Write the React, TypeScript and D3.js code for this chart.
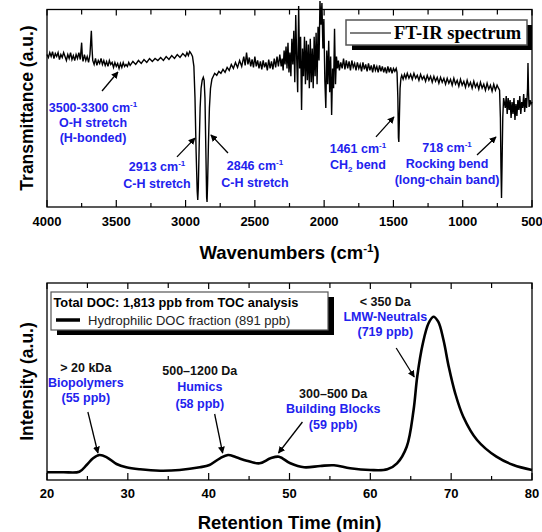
import React from 'react';
import * as d3 from 'd3';

// FT-IR spectrum: [wavenumber cm-1, transmittance a.u.]
const irSpectrum: [number, number][] = [
  [4000, 77], [3990, 75.5], [3980, 78], [3970, 76], [3960, 78.5], [3950, 75], [3940, 77.5], [3930, 76],
  [3920, 78], [3910, 74.5], [3900, 77], [3890, 75.5], [3880, 78], [3870, 76], [3860, 74], [3850, 77],
  [3840, 75], [3830, 78], [3820, 74.5], [3810, 76.5], [3800, 74], [3790, 77], [3780, 75], [3770, 78],
  [3760, 74.5], [3750, 83], [3745, 76], [3740, 73.5], [3730, 77], [3720, 74], [3710, 76], [3700, 73],
  [3690, 77], [3680, 89], [3675, 80], [3670, 74], [3660, 72], [3650, 75], [3640, 71.5], [3630, 74],
  [3620, 72.5], [3610, 75], [3600, 72], [3590, 74], [3580, 71.5], [3570, 73.5], [3560, 71], [3550, 74],
  [3540, 72], [3530, 73], [3520, 70.5], [3510, 73], [3500, 71], [3490, 72.5], [3480, 70], [3470, 72.5],
  [3460, 70.5], [3450, 73], [3440, 71], [3430, 72], [3420, 71], [3410, 73], [3400, 71.5], [3380, 73.5],
  [3360, 72], [3340, 74], [3320, 72.5], [3300, 74.5], [3280, 73], [3260, 75], [3240, 73.5], [3220, 75],
  [3200, 74], [3180, 75.5], [3160, 74], [3140, 76], [3120, 74.5], [3100, 76.5], [3080, 75], [3060, 77],
  [3040, 75.5], [3020, 77.5], [3000, 76], [2990, 78], [2980, 76.5], [2970, 78.5], [2960, 77.5], [2950, 76],
  [2940, 71], [2932, 55], [2924, 28], [2916, 8], [2912, 3.5], [2908, 10], [2902, 30], [2895, 50],
  [2888, 60], [2880, 64], [2872, 65.5], [2866, 64], [2860, 55], [2854, 30], [2848, 5], [2845, 2.5],
  [2841, 12], [2835, 32], [2828, 50], [2820, 60], [2810, 64.5], [2800, 66], [2790, 67.5], [2775, 66.5],
  [2760, 68.5], [2745, 67.5], [2730, 69.5], [2715, 68], [2700, 70.5], [2685, 69], [2670, 72], [2655, 70],
  [2640, 73], [2625, 70.5], [2610, 74], [2595, 71], [2580, 76], [2570, 71.5], [2560, 78], [2550, 72],
  [2540, 75.5], [2530, 71], [2520, 74.5], [2510, 70.5], [2500, 76], [2490, 71], [2480, 74], [2470, 70],
  [2460, 73.5], [2450, 69.5], [2440, 74], [2430, 70.5], [2420, 73], [2410, 69], [2400, 74.5], [2390, 70],
  [2380, 73.5], [2370, 69.5], [2360, 75], [2350, 70.5], [2340, 76], [2330, 71], [2320, 77], [2310, 71],
  [2303, 75], [2296, 69], [2289, 79], [2282, 72], [2275, 81], [2268, 70], [2261, 83], [2254, 68],
  [2247, 78], [2240, 66], [2233, 85], [2226, 72], [2219, 89], [2212, 63], [2205, 97], [2198, 75],
  [2191, 58], [2184, 101.5], [2177, 70], [2170, 86], [2163, 49], [2156, 80], [2149, 66], [2142, 86],
  [2135, 62], [2128, 84], [2121, 64], [2114, 82], [2107, 60], [2100, 85], [2093, 63], [2086, 80],
  [2079, 60], [2072, 86], [2065, 66], [2058, 88], [2051, 62], [2044, 91], [2037, 74], [2030, 104],
  [2023, 92], [2016, 103], [2009, 80], [2002, 95], [1995, 64], [1988, 50], [1981, 79], [1974, 62],
  [1967, 84], [1960, 58], [1953, 76], [1946, 46.5], [1939, 70], [1932, 60], [1925, 90], [1918, 62],
  [1911, 76], [1904, 70], [1897, 74], [1890, 69], [1880, 73], [1870, 70], [1860, 75], [1850, 69.5],
  [1840, 74], [1830, 70], [1820, 73.5], [1810, 69], [1800, 74], [1790, 70.5], [1780, 72.5], [1770, 69],
  [1760, 73], [1750, 70], [1740, 72], [1730, 68.5], [1720, 73], [1710, 69.5], [1700, 72], [1690, 68.5],
  [1680, 72.5], [1670, 69], [1660, 71.5], [1650, 68], [1640, 72], [1630, 69], [1620, 71], [1610, 68],
  [1600, 71.5], [1590, 68.5], [1580, 71], [1570, 68], [1560, 70.5], [1550, 67.5], [1540, 71], [1530, 68],
  [1520, 70.5], [1510, 67.5], [1500, 70], [1490, 68.5], [1480, 70], [1474, 68], [1468, 55], [1464, 35],
  [1461, 32.8], [1457, 45], [1452, 60], [1446, 65], [1440, 66.5], [1430, 64.5], [1420, 67], [1410, 65],
  [1400, 67.5], [1388, 65], [1376, 67], [1364, 64.5], [1352, 67.5], [1340, 65], [1328, 66.5], [1316, 64],
  [1304, 67], [1292, 64.5], [1280, 66], [1268, 63.5], [1256, 66.5], [1244, 64], [1232, 66], [1220, 63],
  [1208, 66], [1196, 63.5], [1184, 65.5], [1172, 62.5], [1160, 65.5], [1148, 63], [1136, 65], [1124, 62],
  [1112, 65], [1100, 62.5], [1088, 64.5], [1076, 61.5], [1064, 65], [1052, 62], [1040, 64], [1028, 61],
  [1016, 64.5], [1004, 61.5], [992, 63.5], [980, 60.5], [968, 64], [956, 61], [944, 63], [932, 60],
  [920, 63.5], [908, 60.5], [896, 62.5], [884, 59.5], [872, 63], [860, 60], [848, 62], [836, 59],
  [824, 62.5], [812, 59.5], [800, 61.5], [788, 58.5], [776, 62], [764, 59], [752, 61.5], [742, 60],
  [734, 59], [728, 45], [724, 20], [720, 4.5], [716, 22], [711, 45], [705, 55], [700, 53],
  [693, 50], [686, 56], [679, 47], [672, 55], [665, 49], [658, 54], [651, 45], [644, 53],
  [637, 47], [630, 55], [623, 44], [616, 52], [609, 46], [602, 54], [595, 49], [588, 56],
  [581, 47], [574, 53], [567, 50], [560, 57], [553, 48], [546, 55], [539, 50], [532, 60],
  [529, 72.7], [525, 58], [521, 50.5], [514, 54], [507, 52], [500, 53],
];

// SEC-OCD chromatogram: [retention time min, intensity a.u.]
const docChromatogram: [number, number][] = [
  [20, 7.7], [22, 7.8], [24, 8.3], [24.9, 15], [25.7, 21.7], [26.5, 25], [27.4, 22.7], [28.6, 16],
  [29.8, 12.7], [31.5, 10.7], [34, 9.3], [36.4, 10], [38.9, 12.7], [40.1, 15], [41.4, 21.7], [42.4, 25],
  [43.4, 22.7], [44.7, 19.3], [46.3, 16.7], [47.65, 21.7], [48.7, 23.3], [50.1, 16.7], [51.8, 12.7],
  [53.8, 14], [55.5, 14.7], [57.5, 11.7], [60, 10], [62.1, 10.7], [63.3, 16.7], [64.5, 33.3],
  [65.35, 70], [65.8, 103.3], [66.5, 136.7], [67.2, 156.7], [67.8, 163.3], [68.4, 158.3], [69.05, 140],
  [69.7, 113.3], [70.5, 86.7], [71.5, 63.3], [73.2, 40], [75.6, 23.3], [77.7, 15], [80, 10],
];

const irTicks = [4000, 3500, 3000, 2500, 2000, 1500, 1000, 500];
const irMinorTicks = [3750, 3250, 2750, 2250, 1750, 1250, 750];
const rtTicks = [20, 30, 40, 50, 60, 70, 80];
const rtMinorTicks = [25, 35, 45, 55, 65, 75];

// IR band annotations: label lines, label anchor (wn, T), arrow tail and tip (wn, T)
const irBands = [
  { lines: [['3500-3300 cm', '-1'], ['O-H stretch'], ['(H-bonded)']], at: [3668, 48.2], gap: 15, tail: [3603, 58.6], tip: [3488, 68.2] },
  { lines: [['2913 cm', '-1'], ['C-H stretch']], at: [3206, 18.4], gap: 17, tail: [3062, 25.3], tip: [2932, 34.8] },
  { lines: [['2846 cm', '-1'], ['C-H stretch']], at: [2499, 18.7], gap: 17, tail: [2694, 27.3], tip: [2817, 36.4] },
  { lines: [['1461 cm', '-1'], ['CH', '2', ' bend']], at: [1756, 27.5], gap: 16, tail: [1626, 35.4], tip: [1496, 45.5] },
  { lines: [['718 cm', '-1'], ['Rocking bend'], ['(long-chain band)']], at: [1113, 28], gap: 16, tail: [897, 26.3], tip: [760, 35.4] },
];

// DOC fractions: size class, name, amount
const docFractions = [
  { size: '> 20 kDa', name: 'Biopolymers', amount: '(55 ppb)', at: [24.8, 108.5], gap: 15, tail: [25.06, 68], tip: [26.3, 27] },
  { size: '500–1200 Da', name: 'Humics', amount: '(58 ppb)', at: [38.9, 105.5], gap: 16.5, tail: [40.74, 66], tip: [41.73, 27] },
  { size: '300–500 Da', name: 'Building Blocks', amount: '(59 ppb)', at: [55.4, 82.5], gap: 15.5, tail: [51.6, 58], tip: [48.64, 27] },
  { size: '< 350 Da', name: 'LMW-Neutrals', amount: '(719 ppb)', at: [61.85, 174.5], gap: 15, tail: [63.2, 132], tip: [65.43, 103] },
];

const FONT = 'Arial, "Liberation Sans", Helvetica, sans-serif';
const BLUE = '#2222ee';

const App = () => {
  const left = 47, right = 532;
  const x1 = d3.scaleLinear().domain([4000, 500]).range([left, right]);
  const y1 = d3.scaleLinear().domain([0, 100]).range([207, 9]);
  const x2 = d3.scaleLinear().domain([20, 80]).range([left, right]);
  const y2 = d3.scaleLinear().domain([0, 197]).range([480, 283]);

  const irLine = d3.line<[number, number]>().x(d => x1(d[0])).y(d => y1(d[1]));
  const docLine = d3.line<[number, number]>().x(d => x2(d[0])).y(d => y2(d[1])).curve(d3.curveCatmullRom.alpha(0.5));

  const frame = (top: number, bottom: number, x: d3.ScaleLinear<number, number>, major: number[], minor: number[], labelDy: number) => (
    <g>
      <rect x={left} y={top} width={right - left} height={bottom - top} fill="none" stroke="#000" strokeWidth={1.3} />
      {major.map(t => (
        <g key={'M' + t}>
          <line x1={x(t)} x2={x(t)} y1={bottom} y2={bottom - 7} stroke="#000" strokeWidth={1.2} />
          <line x1={x(t)} x2={x(t)} y1={top} y2={top + 6} stroke="#000" strokeWidth={1.2} />
          <text x={x(t)} y={bottom + labelDy} textAnchor="middle" fontSize={13} fontWeight="bold">{t}</text>
        </g>
      ))}
      {minor.map(t => (
        <g key={'m' + t}>
          <line x1={x(t)} x2={x(t)} y1={bottom} y2={bottom - 4} stroke="#000" strokeWidth={1.2} />
          <line x1={x(t)} x2={x(t)} y1={top} y2={top + 5} stroke="#000" strokeWidth={1.2} />
        </g>
      ))}
    </g>
  );

  const arrow = (x0: number, yy0: number, xa: number, ya: number, key: string) => (
    <line key={key} x1={x0} y1={yy0} x2={xa} y2={ya} stroke="#000" strokeWidth={1.3} markerEnd="url(#head)" />
  );

  return (
    <svg width={542} height={532} style={{ position: 'absolute', left: 0, top: 0 }} fontFamily={FONT}>
      <defs>
        <marker id="head" viewBox="0 0 10 10" refX={9} refY={5} markerWidth={7} markerHeight={7} orient="auto" markerUnits="userSpaceOnUse">
          <path d="M0,0 L10,5 L0,10 Z" fill="#000" />
        </marker>
      </defs>

      {/* FT-IR panel */}
      {frame(9.5, 207, x1, irTicks, irMinorTicks, 18.5)}
      <path d={irLine(irSpectrum) || ''} fill="none" stroke="#000" strokeWidth={1.4} />

      <rect x={352} y={25} width={180} height={25} fill="#000" />
      <rect x={346} y={20} width={181} height={25} fill="#fff" stroke="#555" strokeWidth={1.5} />
      <line x1={350} x2={391} y1={33} y2={33} stroke="#000" strokeWidth={1.2} />
      <text x={394} y={39} fontFamily='"Liberation Serif", "Times New Roman", serif' fontWeight="bold" fontSize={18.5}>FT-IR spectrum</text>

      {irBands.map((b, i) => (
        <g key={'band' + i}>
          <text x={x1(b.at[0])} y={y1(b.at[1])} textAnchor="middle" fontSize={12.5} fontWeight="bold" fill={BLUE}>
            {b.lines.map((ln, j) => (
              <tspan key={j} x={x1(b.at[0])} y={y1(b.at[1]) + j * b.gap}>
                {ln[0]}
                {ln[1] === '-1' && <tspan fontSize={8} dy={-5}>-1</tspan>}
                {ln[1] === '2' && <tspan fontSize={8} dy={3}>2</tspan>}
                {ln[2] && <tspan dy={-3}>{ln[2]}</tspan>}
              </tspan>
            ))}
          </text>
          {arrow(x1(b.tail[0]), y1(b.tail[1]), x1(b.tip[0]), y1(b.tip[1]), 'a' + i)}
        </g>
      ))}

      <text x={(left + right) / 2} y={259} textAnchor="middle" fontSize={18.5} fontWeight="bold">
        Wavenumbers (cm<tspan fontSize={11.5} dy={-7.5}>-1</tspan><tspan dy={7.5}>)</tspan>
      </text>
      <text transform={`translate(33,108) rotate(-90)`} textAnchor="middle" fontSize={17.5} fontWeight="bold">Transmittance (a.u.)</text>

      {/* DOC panel */}
      {frame(283, 480, x2, rtTicks, rtMinorTicks, 17.5)}
      <path d={docLine(docChromatogram) || ''} fill="none" stroke="#000" strokeWidth={2.6} />

      <rect x={57} y={297} width={277} height={38} fill="#000" />
      <rect x={51} y={292} width={277} height={38} fill="#fff" stroke="#555" strokeWidth={1.2} />
      <text x={53.5} y={306.5} fontSize={12.8} fontWeight="bold">Total DOC: 1,813 ppb from TOC analysis</text>
      <line x1={56} x2={80} y1={320} y2={320} stroke="#000" strokeWidth={3.5} />
      <text x={88} y={324.5} fontSize={13} fill="#222">Hydrophilic DOC fraction (891 ppb)</text>

      {docFractions.map((f, i) => {
        const cx = x2(f.at[0]);
        const cy = y2(f.at[1]);
        return (
          <g key={'frac' + i} textAnchor="middle" fontSize={12.5} fontWeight="bold">
            <text x={cx} y={cy} fill="#111">{f.size}</text>
            <text x={cx} y={cy + f.gap} fill={BLUE}>{f.name}</text>
            <text x={cx} y={cy + 2 * f.gap} fill={BLUE}>{f.amount}</text>
            {arrow(x2(f.tail[0]), y2(f.tail[1]), x2(f.tip[0]), y2(f.tip[1]), 'f' + i)}
          </g>
        );
      })}

      <text x={(left + right) / 2} y={529} textAnchor="middle" fontSize={18.5} fontWeight="bold">Retention Time (min)</text>
      <text transform={`translate(33,381.5) rotate(-90)`} textAnchor="middle" fontSize={17.5} fontWeight="bold">Intensity (a.u.)</text>
    </svg>
  );
};

export default App;
